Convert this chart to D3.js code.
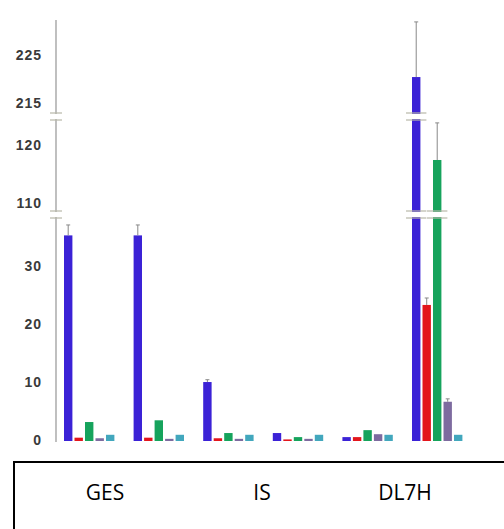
<!DOCTYPE html>
<html>
<head>
<meta charset="utf-8">
<script src="https://cdn.jsdelivr.net/npm/d3@7"></script>
<style>
  body { margin: 0; background: #fff; }
  svg { display: block; }
</style>
</head>
<body>
<svg width="504" height="529"></svg>
<script>
// data
var groups = ["g1", "g2", "g3", "g4", "g5", "g6"];
var seriesNames = ["s1", "s2", "s3", "s4", "s5"];
var s1 = [35.3, 35.3, 10.0, 1.2, 0.5, 220.4];
var s2 = [0.4, 0.4, 0.3, 0.1, 0.5, 23.3];
var s3 = [3.1, 3.4, 1.2, 0.5, 1.7, 117.4];
var s4 = [0.3, 0.2, 0.2, 0.2, 1.0, 6.6];
var s5 = [0.9, 0.9, 0.9, 0.9, 0.9, 0.9];
var e1 = [1.8, 1.8, 0.4, 0, 0, 11.5];
var e2 = [0, 0, 0, 0, 0, 1.2];
var e3 = [0, 0, 0, 0, 0, 6.4];
var e4 = [0, 0, 0, 0, 0, 0.5];
var e5 = [0, 0, 0, 0, 0, 0];
var lowTicks = [0, 10, 20, 30];
var midTicks = [110, 120];
var topTicks = [215, 225];
var categories = ["GES", "IS", "DL7H"];

var colors = ["#3b22d6", "#e3161c", "#16a35c", "#7d6b9f", "#42a7bd"];
var values = [s1, s2, s3, s4, s5];
var errors = [e1, e2, e3, e4, e5];

var svg = d3.select("svg");

// three pieces of the broken y axis
var yLow = d3.scaleLinear().domain([0, 38.3]).range([440, 218]);
var yMid = d3.scaleLinear().domain([108.6, 124.3]).range([211, 120]);
var yTop = d3.scaleLinear().domain([212.9, 232.3]).range([113, 20]);
var gaps = [[211, 218, 38.3], [113, 120, 124.3]];

function y(v) {
    if (v <= yLow.domain()[1]) return yLow(v);
    if (v <= yMid.domain()[1]) return yMid(Math.max(v, yMid.domain()[0]));
    return yTop(Math.max(v, yTop.domain()[0]));
}

var x0 = d3.scaleBand().domain(groups).range([64, 462.4]).paddingInner(0.276).paddingOuter(0);
var x1 = d3.scaleBand().domain(seriesNames).range([0, x0.bandwidth()]).padding(0.2).paddingOuter(0);

var data = [];
groups.forEach(function(g, i) {
    seriesNames.forEach(function(s, j) {
        data.push({g: g, s: s, v: values[j][i], e: errors[j][i], c: colors[j]});
    });
});

// axis line
svg.append("line")
    .attr("x1", 56).attr("x2", 56)
    .attr("y1", 20).attr("y2", 442)
    .attr("stroke", "#b0b0b0").attr("stroke-width", 1.6);

// tick labels
var tickData = lowTicks.map(function(t) { return {t: t, py: yLow(t)}; })
    .concat(midTicks.map(function(t) { return {t: t, py: yMid(t)}; }))
    .concat(topTicks.map(function(t) { return {t: t, py: yTop(t)}; }));

svg.selectAll(".tick")
    .data(tickData)
    .enter().append("text")
    .attr("x", 42)
    .attr("y", function(d) { return d.py; })
    .attr("dy", "0.36em")
    .attr("text-anchor", "end")
    .attr("font-family", "Liberation Sans, Arial, sans-serif")
    .attr("font-weight", "bold")
    .attr("font-size", 14)
    .attr("letter-spacing", 1)
    .attr("fill", "#3a3a3a")
    .text(function(d) { return d.t; });

// bars
svg.selectAll(".bar")
    .data(data)
    .enter().append("rect")
    .attr("x", function(d) { return x0(d.g) + x1(d.s); })
    .attr("width", x1.bandwidth())
    .attr("y", function(d) { return y(d.v); })
    .attr("height", function(d) { return yLow(0) - y(d.v) + 1; })
    .attr("fill", function(d) { return d.c; });

// error bars
var withErr = data.filter(function(d) { return d.e > 0; });
svg.selectAll(".err")
    .data(withErr)
    .enter().append("line")
    .attr("x1", function(d) { return x0(d.g) + x1(d.s) + x1.bandwidth() / 2; })
    .attr("x2", function(d) { return x0(d.g) + x1(d.s) + x1.bandwidth() / 2; })
    .attr("y1", function(d) { return y(d.v); })
    .attr("y2", function(d) { return y(d.v + d.e); })
    .attr("stroke", "#888").attr("stroke-width", 1);
svg.selectAll(".cap")
    .data(withErr)
    .enter().append("line")
    .attr("x1", function(d) { return x0(d.g) + x1(d.s) + x1.bandwidth() / 2 - 2; })
    .attr("x2", function(d) { return x0(d.g) + x1(d.s) + x1.bandwidth() / 2 + 2; })
    .attr("y1", function(d) { return y(d.v + d.e); })
    .attr("y2", function(d) { return y(d.v + d.e); })
    .attr("stroke", "#888").attr("stroke-width", 1);

// break marks on axis and on tall bars
gaps.forEach(function(gp) {
    var spots = [{cx: 56, w: 0}];
    data.forEach(function(d) {
        if (d.v > gp[2]) spots.push({cx: x0(d.g) + x1(d.s) + x1.bandwidth() / 2, w: x1.bandwidth()});
    });
    spots.forEach(function(p) {
        var half = p.w / 2 + 6;
        svg.append("rect")
            .attr("x", p.cx - half).attr("y", gp[0] + 1)
            .attr("width", half * 2).attr("height", gp[1] - gp[0] - 2)
            .attr("fill", "#fff");
        [gp[0], gp[1]].forEach(function(yy) {
            svg.append("line")
                .attr("x1", p.cx - half).attr("x2", p.cx + half)
                .attr("y1", yy).attr("y2", yy)
                .attr("stroke", "#b8b8a8").attr("stroke-width", 1.2);
        });
    });
});

// category box below
var labelX = [105, 262, 405];
svg.append("rect")
    .attr("x", 14).attr("y", 462)
    .attr("width", 500).attr("height", 80)
    .attr("fill", "none")
    .attr("stroke", "#000").attr("stroke-width", 2);

svg.selectAll(".cat")
    .data(categories)
    .enter().append("text")
    .attr("x", function(d, i) { return labelX[i]; })
    .attr("y", 500)
    .attr("text-anchor", "middle")
    .attr("font-family", "Open Sans, Noto Sans, sans-serif")
    .attr("font-size", 21)
    .attr("fill", "#000")
    .text(function(d) { return d; });
</script>
</body>
</html>
